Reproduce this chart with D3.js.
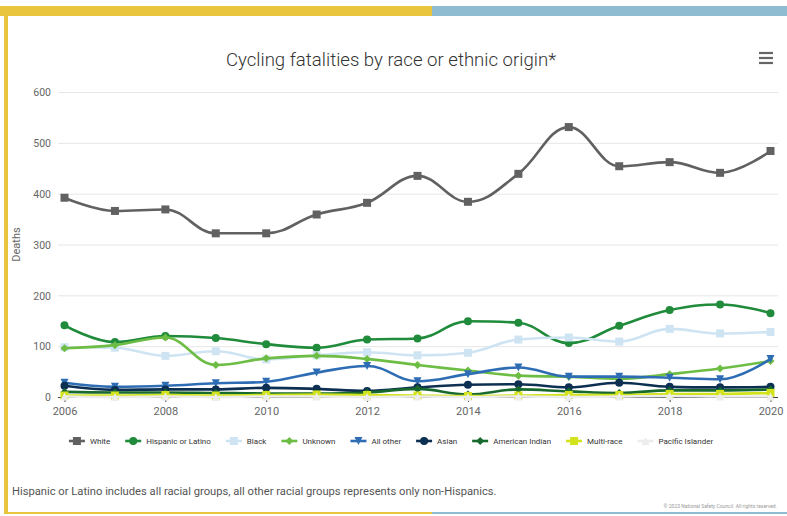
<!DOCTYPE html>
<html><head><meta charset="utf-8">
<script src="https://cdn.jsdelivr.net/npm/d3@7"></script>
<style>
html,body{margin:0;padding:0;background:#fff;}
svg{display:block;font-family:Roboto,"Noto Sans",sans-serif;}
</style></head>
<body><svg id="c" width="787" height="516"></svg>
<script>
const years = [2006,2007,2008,2009,2010,2011,2012,2013,2014,2015,2016,2017,2018,2019,2020];
const yTicks = [0,100,200,300,400,500,600];
const xTicks = [2006,2008,2010,2012,2014,2016,2018,2020];
const seriesNames = ["White","Hispanic or Latino","Black","Unknown","All other","Asian","American Indian","Multi-race","Pacific Islander"];
const seriesColors = ["#616161","#1f8b3b","#cfe4f3","#6dbd45","#2e6db4","#0d2f52","#18692e","#d2e31c","#ececec"];
const seriesSymbols = ["square","circle","square","diamond","triangle-down","circle","diamond","square","triangle"];
const white    = [392,366,369,322,322,359,382,435,384,439,531,454,462,441,484];
const hispanic = [141,108,120,116,104,97,113,115,149,146,106,140,171,182,165];
const black    = [98,97,81,90,74,82,88,82,87,113,117,109,134,125,128];
const unknown  = [96,102,117,63,76,81,75,63,52,42,40,36,45,56,71];
const allOther = [28,20,22,27,30,48,61,31,45,58,40,40,38,35,75];
const asian    = [22,14,15,15,18,16,12,19,24,25,19,28,20,19,20];
const amIndian = [10,9,9,8,7,7,9,16,5,15,11,8,13,13,15];
const multi    = [3,3,4,3,4,5,4,3,2,3,4,4,6,6,8];
const pacific  = [1,0,1,0,1,1,0,1,0,1,0,1,2,1,1];
const seriesValues = [white,hispanic,black,unknown,allOther,asian,amIndian,multi,pacific];
const titleText = "Cycling fatalities by race or ethnic origin*";
const yTitle = "Deaths";
const footnote = "Hispanic or Latino includes all racial groups, all other racial groups represents only non-Hispanics.";
const credit = "\u00a9 2023 National Safety Council. All rights reserved.";

const svg = d3.select("#c");
// frame
svg.append("rect").attr("x",0).attr("y",6).attr("width",432).attr("height",10).attr("fill","#e8c53c");
svg.append("rect").attr("x",432).attr("y",6).attr("width",355).attr("height",10).attr("fill","#8fbcd0");
svg.append("rect").attr("x",4).attr("y",6).attr("width",4).attr("height",508).attr("fill","#e8c53c");
svg.append("rect").attr("x",4).attr("y",512).attr("width",428).attr("height",2).attr("fill","#e8c53c");
svg.append("rect").attr("x",432).attr("y",512).attr("width",355).attr("height",2).attr("fill","#8fbcd0");

const plotL = 58, plotR = 778, plotT = 92, plotB = 397;
const x = d3.scaleLinear().domain([2006,2020]).range([64.5,770.5]);
const y = d3.scaleLinear().domain([0,600]).range([plotB,plotT]);

// title
svg.append("text").attr("x",391).attr("y",66).attr("text-anchor","middle")
  .attr("font-size",18.6).attr("font-weight",300).attr("fill","#333").text(titleText);
// hamburger
[53,58,63].forEach(yy=>svg.append("line").attr("x1",759).attr("x2",773).attr("y1",yy).attr("y2",yy)
  .attr("stroke","#666").attr("stroke-width",2.2));

// grid
const g = svg.append("g");
g.selectAll("line.grid").data(yTicks.filter(d=>d>0)).join("line")
  .attr("x1",plotL).attr("x2",plotR).attr("y1",d=>y(d)+0.5).attr("y2",d=>y(d)+0.5)
  .attr("stroke","#e6e6e6").attr("stroke-width",1);
// y axis labels
const yAxis = d3.axisLeft(y).tickValues(yTicks).tickSize(0).tickPadding(0);
const ya = svg.append("g").attr("transform",`translate(51,0)`).call(yAxis);
ya.select(".domain").remove();
ya.selectAll("text").attr("font-size",10.5).attr("fill","#666").attr("font-family","Roboto,sans-serif").attr("dy","0.35em");
svg.append("text").attr("transform",`translate(20,${(plotT+plotB)/2}) rotate(-90)`)
  .attr("text-anchor","middle").attr("font-size",11).attr("fill","#666").text(yTitle);

// x axis
const xAxis = d3.axisBottom(x).tickValues(xTicks).tickFormat(d3.format("d")).tickSize(5).tickPadding(5);
const xa = svg.append("g").attr("transform",`translate(0,${plotB})`).call(xAxis);
xa.select(".domain").remove();
xa.selectAll(".tick line").attr("stroke","#444");
xa.selectAll("text").attr("font-size",11).attr("fill","#666").attr("font-family","Roboto,sans-serif");
svg.append("line").attr("x1",plotL).attr("x2",plotR).attr("y1",plotB+0.5).attr("y2",plotB+0.5).attr("stroke","#444").attr("stroke-width",1);

// Highcharts-like spline curve
function HSpline(ctx){ this._context = ctx; }
HSpline.prototype = {
  areaStart(){}, areaEnd(){},
  lineStart(){ this._x=[]; this._y=[]; },
  point(px,py){ this._x.push(+px); this._y.push(+py); },
  lineEnd(){
    const X=this._x, Y=this._y, n=X.length, c=this._context;
    if(!n) return;
    c.moveTo(X[0],Y[0]);
    const sm=1.5, dn=2.5; let prc=null;
    for(let i=1;i<n;i++){
      let lcx=X[i], lcy=Y[i], rc=null;
      if(i<n-1){
        const lx=X[i-1], ly=Y[i-1], nx=X[i+1], ny=Y[i+1], px=X[i], py=Y[i];
        lcx=(sm*px+lx)/dn; lcy=(sm*py+ly)/dn;
        let rcx=(sm*px+nx)/dn, rcy=(sm*py+ny)/dn, corr=0;
        if(rcx!==lcx) corr=((rcy-lcy)*(rcx-px))/(rcx-lcx)+py-rcy;
        lcy+=corr; rcy+=corr;
        if(lcy>ly && lcy>py){ lcy=Math.max(ly,py); rcy=2*py-lcy; }
        else if(lcy<ly && lcy<py){ lcy=Math.min(ly,py); rcy=2*py-lcy; }
        if(rcy>ny && rcy>py){ rcy=Math.max(ny,py); lcy=2*py-rcy; }
        else if(rcy<ny && rcy<py){ rcy=Math.min(ny,py); lcy=2*py-rcy; }
        rc=[rcx,rcy];
      }
      c.bezierCurveTo(prc?prc[0]:X[i-1], prc?prc[1]:Y[i-1], lcx, lcy, X[i], Y[i]);
      prc=rc;
    }
  }
};
const curveH = ctx => new HSpline(ctx);
const line = d3.line().x((d,i)=>x(years[i])).y(d=>y(d)).curve(curveH);

function symPath(type, cx, cy, r){
  switch(type){
    case "square": return `M${cx-r},${cy-r}h${2*r}v${2*r}h${-2*r}Z`;
    case "circle": return `M${cx-r},${cy}a${r},${r} 0 1,0 ${2*r},0a${r},${r} 0 1,0 ${-2*r},0Z`;
    case "diamond": return `M${cx},${cy-r}L${cx+r},${cy}L${cx},${cy+r}L${cx-r},${cy}Z`;
    case "triangle": return `M${cx},${cy-r}L${cx+r},${cy+r}L${cx-r},${cy+r}Z`;
    case "triangle-down": return `M${cx-r},${cy-r}L${cx+r},${cy-r}L${cx},${cy+r}Z`;
  }
}

const sg = svg.append("g");
seriesNames.forEach((name,si)=>{
  const vals = seriesValues[si], col = seriesColors[si];
  const grp = sg.append("g");
  grp.append("path").attr("d",line(vals)).attr("fill","none").attr("stroke",col).attr("stroke-width",2.6)
    .attr("stroke-linejoin","round").attr("stroke-linecap","round");
  grp.selectAll("path.m").data(vals).join("path").attr("class","m")
    .attr("d",(d,i)=>symPath(seriesSymbols[si], x(years[i]), y(d), 4)).attr("fill",col);
});

// legend
const lg = svg.append("g").attr("font-size",8).attr("fill","#333");
const items = [];
const gap = 15;
seriesNames.forEach((name,si)=>{
  const it = lg.append("g");
  it.append("line").attr("x1",0).attr("x2",16).attr("y1",0).attr("y2",0).attr("stroke",seriesColors[si]).attr("stroke-width",2.6);
  it.append("path").attr("d",symPath(seriesSymbols[si],8,0,4)).attr("fill",seriesColors[si]);
  const t = it.append("text").attr("x",21).attr("y",3).attr("fill","#333").text(name);
  const w = 21 + t.node().getComputedTextLength();
  items.push({it,w});
});
const total = d3.sum(items,d=>d.w) + gap*(items.length-1);
let start = 391 - total/2;
items.forEach(d=>{ d.it.attr("transform",`translate(${start},441)`); start += d.w + gap; });

// footnote & credit
svg.append("text").attr("x",12).attr("y",495).attr("font-size",11.2).attr("fill","#555").text(footnote);
svg.append("text").attr("x",777).attr("y",508).attr("text-anchor","end").attr("font-size",5).attr("fill","#999").text(credit);
</script></body></html>
